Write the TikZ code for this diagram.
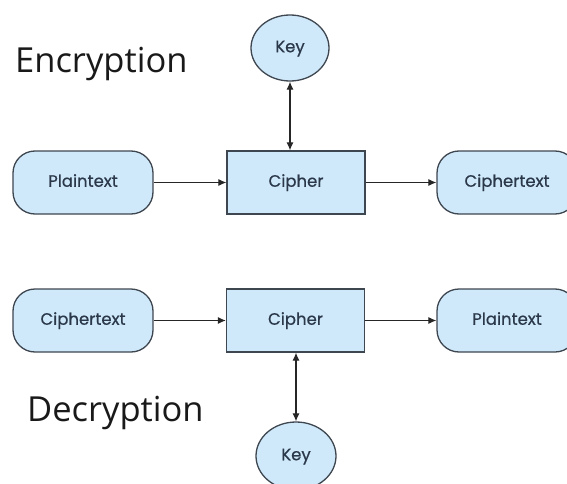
\documentclass[tikz,border=0pt]{standalone}
\usepackage{fontspec}
\setmainfont{Open Sans}
\newfontfamily\boxfont[FakeBold=0.6]{Poppins}
\usetikzlibrary{shapes.geometric,arrows.meta}
\definecolor{boxfill}{HTML}{CFE9FA}
\definecolor{boxline}{HTML}{3E4650}
\definecolor{boxtext}{HTML}{2A384A}
\begin{document}
\begin{tikzpicture}[x=1pt,y=-1pt,
  base/.style={draw=boxline,line width=1.3pt,fill=boxfill,text=boxtext,
    font=\boxfont\fontsize{16.5}{19}\selectfont,inner sep=0pt,
    text height=11.5pt,text depth=3pt},
  datum/.style={base,rounded corners=22pt,minimum width=140pt,minimum height=63pt},
  cipherbox/.style={base,minimum width=138pt,minimum height=63pt},
  keynode/.style={base,ellipse,minimum width=78pt,minimum height=66pt},
  flow/.style={draw=black!85,line width=1.1pt,-{Latex[length=8pt,width=7pt]}},
  twoway/.style={draw=black!85,line width=1.1pt,{Latex[length=8pt,width=7pt]}-{Latex[length=8pt,width=7pt]}},
  heading/.style={anchor=base west,inner sep=0pt,font=\fontsize{34.5}{40}\selectfont,text=black!90}]
\useasboundingbox (0,0) rectangle (567,484);
\begin{scope}
\clip (0,0) rectangle (567,484);

% encryption
\node[heading] (enc) at (15,73) {Encryption};
\node[keynode] (keyT) at (290,48) {Key};
\node[datum] (plainT) at (83,182.5) {Plaintext};
\node[cipherbox] (cipherT) at (296,182.5) {Cipher};
\node[datum] (ciphT) at (507,182.5) {Ciphertext};
\draw[flow] (plainT) -- (cipherT);
\draw[flow] (cipherT) -- (ciphT);
\draw[twoway] (keyT) -- (keyT |- cipherT.north);

% decryption
\node[heading] (dec) at (27,421) {Decryption};
\node[datum] (ciphB) at (83,320.5) {Ciphertext};
\node[cipherbox] (cipherB) at (295.5,320.5) {Cipher};
\node[datum] (plainB) at (507,320.5) {Plaintext};
\node[keynode,minimum width=80pt,minimum height=68pt] (keyB) at (296,456) {Key};
\draw[flow] (ciphB) -- (cipherB);
\draw[flow] (cipherB) -- (plainB);
\draw[twoway] (keyB) -- (keyB |- cipherB.south);
\end{scope}
\end{tikzpicture}
\end{document}
